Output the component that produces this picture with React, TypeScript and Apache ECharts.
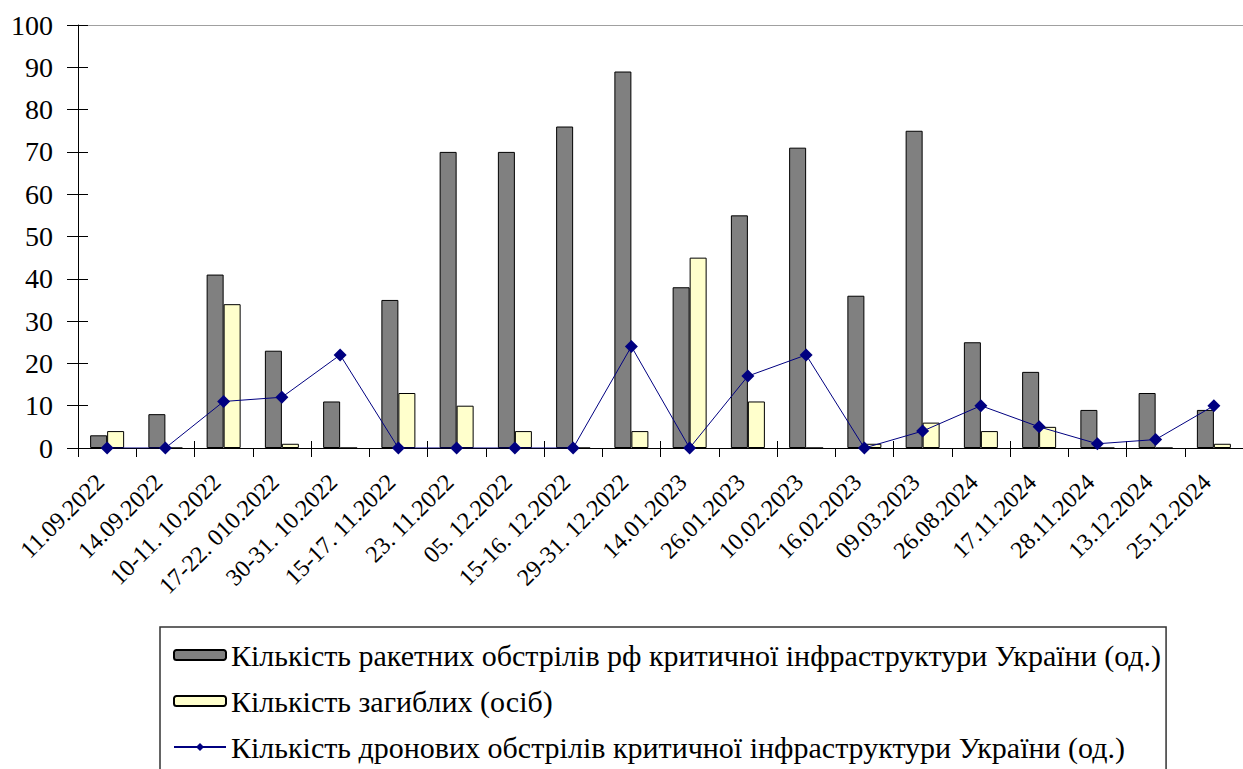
import React, { useEffect, useRef } from "react";
import * as echarts from "echarts";

const categories = [
  "11.09.2022",
  "14.09.2022",
  "10-11. 10.2022",
  "17-22. 010.2022",
  "30-31. 10.2022",
  "15-17. 11.2022",
  "23. 11.2022",
  "05. 12.2022",
  "15-16. 12.2022",
  "29-31. 12.2022",
  "14.01.2023",
  "26.01.2023",
  "10.02.2023",
  "16.02.2023",
  "09.03.2023",
  "26.08.2024",
  "17.11.2024",
  "28.11.2024",
  "13.12.2024",
  "25.12.2024",
];

const rocketAttacks = [3, 8, 41, 23, 11, 35, 70, 70, 76, 89, 38, 55, 71, 36, 75, 25, 18, 9, 13, 9];
const deaths = [4, 0, 34, 1, 0, 13, 10, 4, 0, 4, 45, 11, 0, 1, 6, 4, 5, 0, 0, 1];
const droneAttacks = [0, 0, 11, 12, 22, 0, 0, 0, 0, 24, 0, 17, 22, 0, 4, 10, 5, 1, 2, 10];

const seriesNames = [
  "Кількість ракетних обстрілів рф критичної інфраструктури України (од.)",
  "Кількість загиблих (осіб)",
  "Кількість дронових обстрілів критичної інфраструктури України (од.)",
];

const yTicks = { min: 0, max: 100, interval: 10 };

const FONT = "Liberation Serif";

export default function App() {
  const ref = useRef<HTMLDivElement>(null);

  useEffect(() => {
    if (!ref.current) return;
    const chart = echarts.init(ref.current, undefined, { renderer: "svg" });
    const option: any = {
      animation: false,
      backgroundColor: "#ffffff",
      textStyle: { fontFamily: FONT },
      grid: { left: 78, top: 25, width: 1168, height: 423, containLabel: false },
      legend: {
        type: "plain",
        orient: "vertical",
        left: 160,
        top: 627,
        height: 140,
        padding: [13, 5, 14, 13],
        itemGap: 16,
        itemWidth: 52,
        itemHeight: 10,
        borderColor: "#333333",
        borderWidth: 1.5,
        borderRadius: 0,
        backgroundColor: "#ffffff",
        textStyle: { fontSize: 30, color: "#000000", fontFamily: FONT, lineHeight: 30 },
        data: seriesNames,
      },
      xAxis: [
        {
          type: "category",
          data: categories,
          position: "bottom",
          boundaryGap: true,
          axisLine: { show: true, onZero: false, lineStyle: { color: "#000000", width: 1 } },
          axisTick: { show: true, inside: false, length: 9, lineStyle: { color: "#000000", width: 1 } },
          axisLabel: {
            rotate: 45,
            interval: 0,
            fontSize: 24,
            color: "#000000",
            fontFamily: FONT,
            margin: 23,
            padding: [0, 10, 0, 0],
          },
          splitLine: { show: false },
        },
        {
          type: "category",
          data: categories,
          position: "bottom",
          boundaryGap: true,
          axisLine: { show: false, onZero: false },
          axisTick: { show: true, inside: true, length: 7, lineStyle: { color: "#000000", width: 1 } },
          axisLabel: { show: false },
          splitLine: { show: false },
        },
        {
          type: "category",
          data: categories,
          position: "top",
          boundaryGap: true,
          axisLine: { show: true, onZero: false, lineStyle: { color: "#a0a0a0", width: 1 } },
          axisTick: { show: false },
          axisLabel: { show: false },
          splitLine: { show: false },
        },
      ],
      yAxis: [
        {
          type: "value",
          ...yTicks,
          position: "left",
          axisLine: { show: true, lineStyle: { color: "#000000", width: 1 } },
          axisTick: { show: true, inside: false, length: 11, lineStyle: { color: "#000000", width: 1 } },
          axisLabel: { fontSize: 28, color: "#000000", fontFamily: FONT, margin: 25 },
          splitLine: { show: false },
        },
        {
          type: "value",
          ...yTicks,
          position: "left",
          offset: 0,
          axisLine: { show: false },
          axisTick: { show: true, inside: true, length: 10, lineStyle: { color: "#000000", width: 1 } },
          axisLabel: { show: false },
          splitLine: { show: false },
        },
      ],
      series: [
        {
          name: seriesNames[0],
          type: "bar",
          data: rocketAttacks,
          xAxisIndex: 0,
          yAxisIndex: 0,
          barWidth: 17,
          barGap: "0%",
          itemStyle: { color: "#808080", borderColor: "#000000", borderWidth: 1 },
        },
        {
          name: seriesNames[1],
          type: "bar",
          data: deaths,
          xAxisIndex: 0,
          yAxisIndex: 0,
          barWidth: 17,
          barGap: "0%",
          itemStyle: { color: "#ffffcc", borderColor: "#000000", borderWidth: 1 },
        },
        {
          name: seriesNames[2],
          type: "line",
          data: droneAttacks,
          xAxisIndex: 0,
          yAxisIndex: 0,
          symbol: "diamond",
          symbolSize: 13,
          lineStyle: { color: "#000080", width: 1 },
          itemStyle: { color: "#000080" },
          z: 5,
        },
      ],
    };
    chart.setOption(option);
    return () => chart.dispose();
  }, []);

  return (
    <div
      ref={ref}
      style={{ position: "absolute", left: 0, top: 0, width: 1243, height: 769 }}
    />
  );
}
